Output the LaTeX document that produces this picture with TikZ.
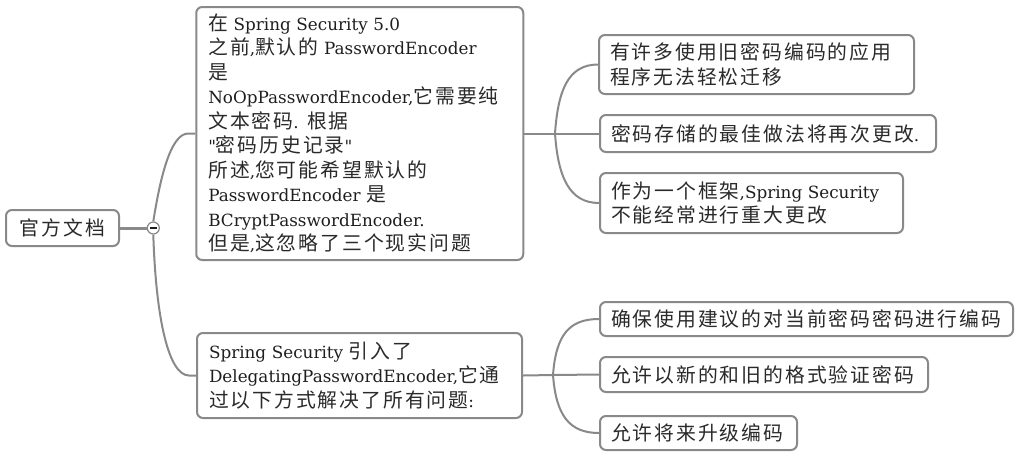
\documentclass[tikz,border=0pt]{standalone}
\usepackage{fontspec}
\setmainfont{DejaVu Serif}
\newfontfamily\cjkfont[LetterSpace=10]{Noto Sans CJK SC}
\definecolor{edge}{HTML}{898989}
\definecolor{ink}{HTML}{1E1E1E}
\definecolor{cjkink}{HTML}{2A2A2A}
\newcommand\zh[1]{{\cjkfont\fontsize{19.8}{24.5}\selectfont\color{cjkink}#1}}
\newcommand\lineb[1]{\mbox{#1}}
\begin{document}
\begin{tikzpicture}[x=1pt,y=-1pt,
  box/.style={draw=edge, line width=2pt, rounded corners=6pt, fill=white, text=ink,
    inner xsep=11pt, inner ysep=0pt, align=left, font=\fontsize{16.8}{24.5}\selectfont},
  conn/.style={draw=edge, line width=2pt},
  toggle/.style={circle, draw=edge, fill=white, line width=1.2pt, minimum size=12pt, inner sep=0pt}]
\useasboundingbox[fill=white] (0,0) rectangle (1024,456);

\node[box, minimum width=113pt, minimum height=36pt, align=center, inner xsep=6pt] (root) at (62.5,228) {\zh{官方文档}};

\node[box, text width=303pt, minimum height=253pt, inner xsep=12pt] (n1) at (359.75,133.5) {%
\lineb{\zh{在} Spring Security 5.0}\\
\lineb{\zh{之前},\zh{默认的} PasswordEncoder}\\
\lineb{\zh{是}}\\
\lineb{NoOpPasswordEncoder,\zh{它需要纯}}\\
\lineb{\zh{文本密码}. \zh{根据}}\\
\lineb{\textquotedbl\zh{密码历史记录}\textquotedbl}\\
\lineb{\zh{所述},\zh{您可能希望默认的}}\\
\lineb{PasswordEncoder \zh{是}}\\
\lineb{BCryptPasswordEncoder.}\\
\lineb{\zh{但是},\zh{这忽略了三个现实问题}}};

\node[box, text width=301pt, minimum height=85pt, inner xsep=12pt] (n2) at (359.5,375.5) {%
\lineb{Spring Security \zh{引入了}}\\
\lineb{DelegatingPasswordEncoder,\zh{它通}}\\
\lineb{\zh{过以下方式解决了所有问题}:}};

\node[box, text width=293pt, minimum height=59pt] (c1) at (756.5,64.5) {%
\lineb{\zh{有许多使用旧密码编码的应用}}\\
\lineb{\zh{程序无法轻松迁移}}};
\node[box, text width=314pt, minimum height=37pt] (c2) at (768,133.5) {%
\lineb{\zh{密码存储的最佳做法将再次更改}.}};
\node[box, text width=281pt, minimum height=60pt] (c3) at (751.5,203) {%
\lineb{\zh{作为一个框架},Spring Security}\\
\lineb{\zh{不能经常进行重大更改}}};

\node[box, text width=391pt, minimum height=34pt] (d1) at (806.5,319) {%
\lineb{\zh{确保使用建议的对当前密码密码进行编码}}};
\node[box, text width=306pt, minimum height=35pt] (d2) at (764,374.5) {%
\lineb{\zh{允许以新的和旧的格式验证密码}}};
\node[box, text width=175pt, minimum height=34pt] (d3) at (698.5,433) {%
\lineb{\zh{允许将来升级编码}}};

\node[toggle] (tog) at (153.3,228) {};
\coordinate (j1) at (555,133.5);
\coordinate (j2) at (553,375);

\draw[conn, line width=3pt] (root.east) -- (tog.west);
\draw[conn] (tog.north) .. controls +(6.7,-42) and +(-18,0) .. ([xshift=-7pt]n1.west) -- (n1.west);
\draw[conn] (tog.south) .. controls +(2.7,86) and +(-20,0) .. ([xshift=-7pt]n2.west) -- (n2.west);
\draw[ink, line width=1.3pt] ([xshift=-3.5pt]tog.center) -- ([xshift=3.5pt]tog.center);

\draw[conn] (n1.east) -- (j1);
\draw[conn] (j1) .. controls +(3,-43) and +(-30,0) .. (c1.west);
\draw[conn] (j1) -- (c2.west);
\draw[conn] (j1) .. controls +(3,43) and +(-30,0) .. (c3.west);

\draw[conn] (n2.east) -- (j2);
\draw[conn] (j2) .. controls +(3,-40) and +(-30,0) .. (d1.west);
\draw[conn] (j2) -- (d2.west);
\draw[conn] (j2) .. controls +(3,40) and +(-30,0) .. (d3.west);
\end{tikzpicture}
\end{document}
